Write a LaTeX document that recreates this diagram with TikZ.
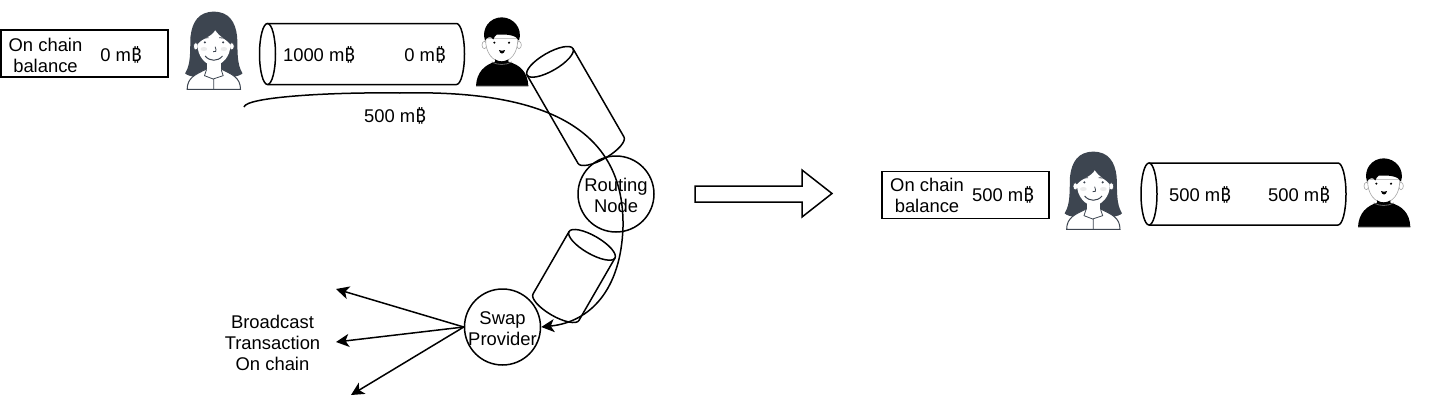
\documentclass[tikz,border=0pt]{standalone}
\usepackage{fontspec}
\setmainfont{Liberation Sans}
\newfontfamily\btcfont{Noto Sans}
\usetikzlibrary{arrows.meta}
\tikzset{>={Stealth[width=13pt,length=13pt,inset=3.5pt]}}
\newcommand\mbtc{m{\btcfont\symbol{"20BF}}}
\definecolor{hairgray}{HTML}{3D4550}
\tikzset{
  lbl/.style={font=\fontsize{18.4}{21}\selectfont,align=center,inner sep=0pt},
  balancebox/.style={draw,line width=2pt,minimum width=167pt,minimum height=47pt,inner sep=0pt},
  hop/.style={draw,line width=1.5pt,circle,minimum size=76pt,inner sep=0pt},
  wire/.style={line width=1.5pt},
  % full ellipse on the left end, length #1, height #2, end radius #3
  pics/pipe/.style n args={3}{code={
    \draw[wire,line join=round] ({-#1/2+#3},{-#2/2}) -- ({#1/2-#3},{-#2/2})
      .. controls ({#1/2-#3+.55*#3},{-#2/2}) and ({#1/2},{-#2/2+.45*#2/2}) .. ({#1/2},{0})
      .. controls ({#1/2},{#2/2-.45*#2/2}) and ({#1/2-#3+.55*#3},{#2/2}) .. ({#1/2-#3},{#2/2})
      -- ({-#1/2+#3},{#2/2});
    \draw[wire] ({-#1/2+#3},{-#2/2})
      .. controls ({-#1/2+#3+.55*#3},{-#2/2}) and ({-#1/2+2*#3},{-.55*#2/2}) .. ({-#1/2+2*#3},{0})
      .. controls ({-#1/2+2*#3},{.55*#2/2}) and ({-#1/2+#3+.55*#3},{#2/2}) .. ({-#1/2+#3},{#2/2})
      .. controls ({-#1/2+#3-.55*#3},{#2/2}) and ({-#1/2},{.55*#2/2}) .. ({-#1/2},{0})
      .. controls ({-#1/2},{-.55*#2/2}) and ({-#1/2+#3-.55*#3},{-#2/2}) .. ({-#1/2+#3},{-#2/2}) -- cycle;
  }},
  pics/woman/.style={code={
    \begin{scope}[scale=1/3]
      % hair
      \fill[hairgray] (100,20) .. controls (55,20) and (35,50) .. (30,95)
        .. controls (28,140) and (32,175) .. (14,205) .. controls (30,225) and (170,225) .. (186,205)
        .. controls (168,175) and (172,140) .. (170,95) .. controls (165,50) and (145,20) .. (100,20) -- cycle;
      % shirt
      \draw[hairgray,fill=white,line width=1pt] (20,253) .. controls (20,218) and (45,208) .. (78,192)
        -- (122,192) .. controls (155,208) and (180,218) .. (180,253) -- cycle;
      \draw[hairgray,line width=.8pt] (78,194) -- (72,212) -- (98,222) -- (128,212) -- (122,194)
        (100,222) -- (100,253);
      % neck and face
      \fill[white] (80,165) rectangle (120,200);
      \draw[hairgray,fill=white,line width=.6pt] (46,124) ellipse (7 and 11) (154,124) ellipse (7 and 11);
      \fill[white] (51,118) .. controls (50,155) and (78,182) .. (100,182)
        .. controls (122,182) and (152,155) .. (149,118) .. controls (140,105) and (115,95) .. (104,76)
        .. controls (95,95) and (65,100) .. (51,118) -- cycle;
      \fill[black!8] (70,132) ellipse (10 and 6) (130,132) ellipse (10 and 6);
      \fill[hairgray] (73,112) circle (3.5) (128,112) circle (3.5);
      \draw[hairgray,line width=.8pt] (62,100) -- (84,98) (116,98) -- (138,100);
      \draw[hairgray,line width=.8pt] (104,125) .. controls (110,140) and (104,143) .. (98,140);
      \draw[hairgray,line width=1pt] (74,153) .. controls (88,170) and (112,170) .. (126,153);
    \end{scope}
  }},
  pics/man/.style={code={
    \begin{scope}[scale=1/3]
      % body
      \fill[black] (33,228) .. controls (35,185) and (60,165) .. (90,155) -- (130,155)
        .. controls (165,165) and (188,185) .. (190,228) -- cycle;
      \draw[black!60,line width=.8pt] (33,228) -- (190,228) (80,156) .. controls (100,166) and (120,166) .. (140,156);
      % face
      \draw[black!35,fill=white,line width=.6pt] (58,105) ellipse (7 and 11) (162,105) ellipse (7 and 11);
      \draw[black!35,fill=white,line width=.6pt] (62,85) .. controls (60,130) and (85,155) .. (110,155)
        .. controls (135,155) and (160,130) .. (158,85) -- cycle;
      % hair
      \fill[black] (60,92) .. controls (48,55) and (75,22) .. (110,22)
        .. controls (145,22) and (174,55) .. (162,92) .. controls (155,75) and (125,72) .. (95,74)
        .. controls (88,76) and (90,82) .. (85,88) .. controls (78,78) and (66,80) .. (60,92) -- cycle;
      \fill[black] (88,98) circle (3.5) (132,98) circle (3.5);
      \fill[black] (102,120) .. controls (108,123) and (114,123) .. (120,120) .. controls (118,134) and (104,134) .. (102,120) -- cycle;
      \fill[black] (90,148) .. controls (100,156) and (120,156) .. (130,148) -- (130,158) -- (90,158) -- cycle;
    \end{scope}
  }}
}

\begin{document}
\begin{tikzpicture}[x=1pt,y=-1pt]
  \useasboundingbox (0,0) rectangle (1430,413);

  % before
  \node[balancebox] (bal1) at (84.5,53.5) {};
  \node[lbl] (bal1name) at (45.5,55) {On chain\\balance};
  \node[lbl] (bal1val) at (121,55) {0 \mbtc};
  \pic at (180.5,5) {woman};
  \pic at (362,54) {pipe={205}{61}{8}};
  \node[lbl] (chan1a) at (319,55) {1000 \mbtc};
  \node[lbl] (chan1b) at (425,55) {0 \mbtc};
  \pic at (465,10) {man};

  % hops
  \pic[rotate=-60] at (575.5,106) {pipe={120}{53}{9}};
  \pic[rotate=-120] at (574,276) {pipe={90}{53}{9}};
  \node[hop] (routing) at (616,194) {};
  \node[lbl] (routingname) at (616,195.5) {Routing\\Node};
  \node[hop] (swap) at (502.5,327) {};
  \node[lbl] (swapname) at (502.5,328.5) {Swap\\Provider};

  % payment
  \coordinate (paystart) at (244,107);
  \coordinate (bend1) at (400,93);
  \coordinate (bend2) at (623,227);
  \draw[wire,->] (paystart) .. controls (246,97) and (330,92) .. (bend1)
    .. controls (530,90) and (625,120) .. (bend2)
    .. controls (621,290) and (590,322) .. (swap.east);
  \node[lbl] (paylabel) at (395,116) {500 \mbtc};

  % broadcast
  \coordinate (out1) at (336,289);
  \coordinate (out2) at (336,342);
  \coordinate (out3) at (351,395);
  \draw[wire,->] (swap.west) -- (out1);
  \draw[wire,->] (swap.west) -- (out2);
  \draw[wire,->] (swap.west) -- (out3);
  \node[lbl] (bcast) at (272.5,343) {Broadcast\\Transaction\\On chain};

  % block arrow
  \draw[wire] (695,186) -- (802,186) -- (802,170) -- (832,193.5) -- (802,217) -- (802,202) -- (695,202) -- cycle;

  % after
  \node[balancebox,line width=1.5pt] (bal2) at (965.5,195) {};
  \node[lbl] (bal2name) at (927,195) {On chain\\balance};
  \node[lbl] (bal2val) at (1003,195) {500 \mbtc};
  \pic at (1060,145) {woman};
  \pic at (1243.5,194) {pipe={205}{62}{8}};
  \node[lbl] (chan4a) at (1200,195) {500 \mbtc};
  \node[lbl] (chan4b) at (1299,195) {500 \mbtc};
  \pic at (1347,151) {man};
\end{tikzpicture}
\end{document}
